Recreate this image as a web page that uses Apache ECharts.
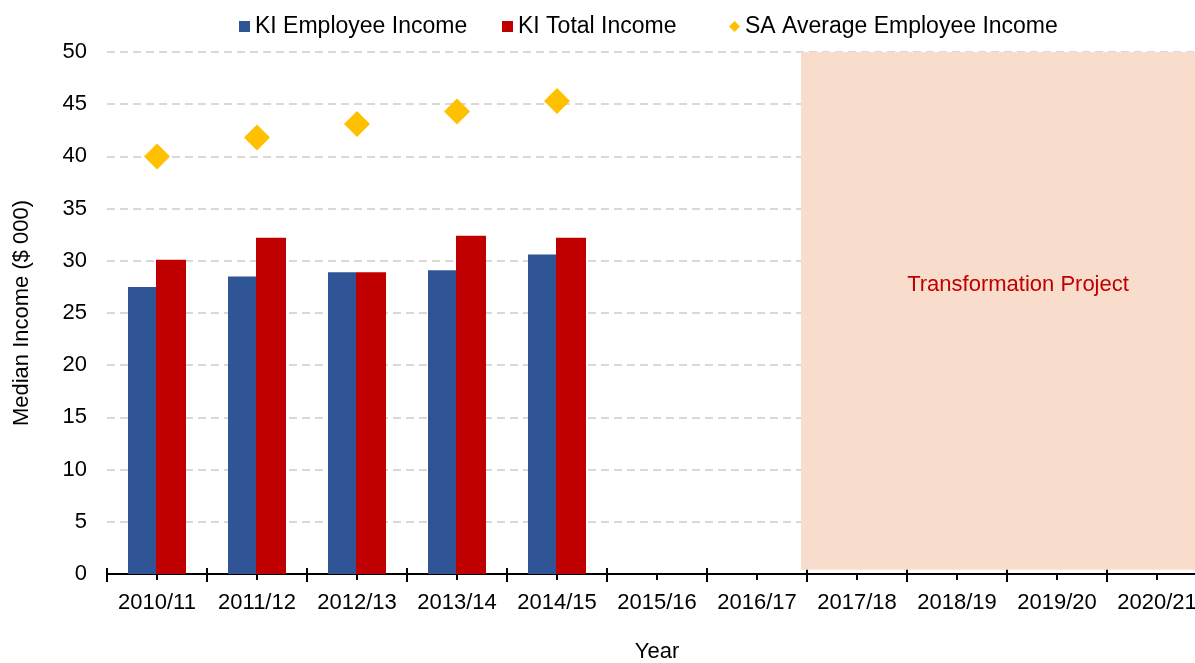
<!DOCTYPE html>
<html>
<head>
<meta charset="utf-8">
<script src="https://cdn.jsdelivr.net/npm/echarts@6/dist/echarts.min.js"></script>
<style>
  html, body { margin: 0; padding: 0; background: #fff; }
  #chart { width: 1195px; height: 663px; }
</style>
</head>
<body>
<div id="chart"></div>
<script>
const years = ["2010/11", "2011/12", "2012/13", "2013/14", "2014/15", "2015/16",
  "2016/17", "2017/18", "2018/19", "2019/20", "2020/21"];
const kiEmployee = [27.5, 28.5, 28.9, 29.1, 30.6];
const kiTotal = [30.1, 32.2, 28.9, 32.4, 32.2];
const saAverage = [40.0, 41.8, 43.1, 44.3, 45.3];
const yTicks = { min: 0, max: 50, interval: 5 };

const font = "'Liberation Sans', Arial, sans-serif";

// one legend per item so each sits where it does in the original
function legendAt(left, name, icon) {
  return {
    top: 10,
    left: left,
    itemWidth: 11,
    itemHeight: 11,
    textStyle: { fontSize: 23, color: "#000", fontFamily: font },
    data: [{ name: name, icon: icon }],
  };
}

const options = {
  animation: false,
  textStyle: { fontFamily: font },
  legend: [
    legendAt(234, "KI Employee Income", "rect"),
    legendAt(497, "KI Total Income", "rect"),
    legendAt(724, "SA Average Employee Income", "diamond"),
  ],
  grid: { left: 107, right: -12, top: 52, bottom: 89, outerBoundsMode: "none", containLabel: false },
  xAxis: [
    {
      type: "category",
      data: years,
      name: "Year",
      nameLocation: "middle",
      nameGap: 67,
      nameTextStyle: { fontSize: 22, color: "#000", fontFamily: font },
      axisLine: { lineStyle: { color: "#000", width: 2 } },
      axisTick: { show: true, length: 8, lineStyle: { color: "#000", width: 2 } },
      axisLabel: { fontSize: 22, color: "#000", margin: 18, fontFamily: font, interval: 0 },
      splitLine: { show: false },
    },
    {
      type: "category",
      data: years,
      position: "bottom",
      offset: 0,
      axisLine: { show: false },
      axisTick: { show: true, inside: true, length: 6, lineStyle: { color: "#000", width: 2 } },
      axisLabel: { show: false },
    },
    {
      type: "category",
      data: years,
      position: "bottom",
      offset: 0,
      axisLine: { show: false },
      axisTick: { show: true, alignWithLabel: true, length: 6, lineStyle: { color: "#000", width: 2 } },
      axisLabel: { show: false },
    },
    { type: "value", min: 0, max: 11, show: false },
  ],
  yAxis: {
    type: "value",
    min: yTicks.min,
    max: yTicks.max,
    interval: yTicks.interval,
    name: "Median Income ($ 000)",
    nameLocation: "middle",
    nameGap: 74,
    nameTextStyle: { fontSize: 22, color: "#000", fontFamily: font },
    axisLine: { show: false },
    axisTick: { show: false },
    axisLabel: { fontSize: 22, color: "#000", margin: 20, fontFamily: font },
    splitLine: { lineStyle: { color: "#d9d9d9", width: 2, type: [8, 5] } },
  },
  series: [
    {
      name: "Transformation",
      type: "line",
      xAxisIndex: 3,
      data: [],
      z: -1,
      silent: true,
      markArea: {
        silent: true,
        itemStyle: { color: "#f9ddcc" },
        label: {
          show: true,
          position: "inside",
          offset: [14, -26],
          color: "#c00000",
          fontSize: 22,
          fontFamily: font,
        },
        data: [[
          { name: "Transformation Project", xAxis: 6.94, yAxis: 0.4 },
          { xAxis: 11, yAxis: 50 },
        ]],
      },
    },
    {
      name: "KI Employee Income",
      type: "bar",
      data: kiEmployee,
      barWidth: 28,
      barGap: "0%",
      itemStyle: { color: "#2f5597" },
    },
    {
      name: "KI Total Income",
      type: "bar",
      data: kiTotal,
      barWidth: 30,
      barGap: "0%",
      itemStyle: { color: "#c00000" },
    },
    {
      name: "SA Average Employee Income",
      type: "scatter",
      data: saAverage,
      symbol: "diamond",
      symbolSize: 26,
      itemStyle: { color: "#ffc000", opacity: 1 },
      z: 3,
    },
  ],
};

const chart = echarts.init(document.getElementById("chart"));
chart.setOption(options);
</script>
</body>
</html>
